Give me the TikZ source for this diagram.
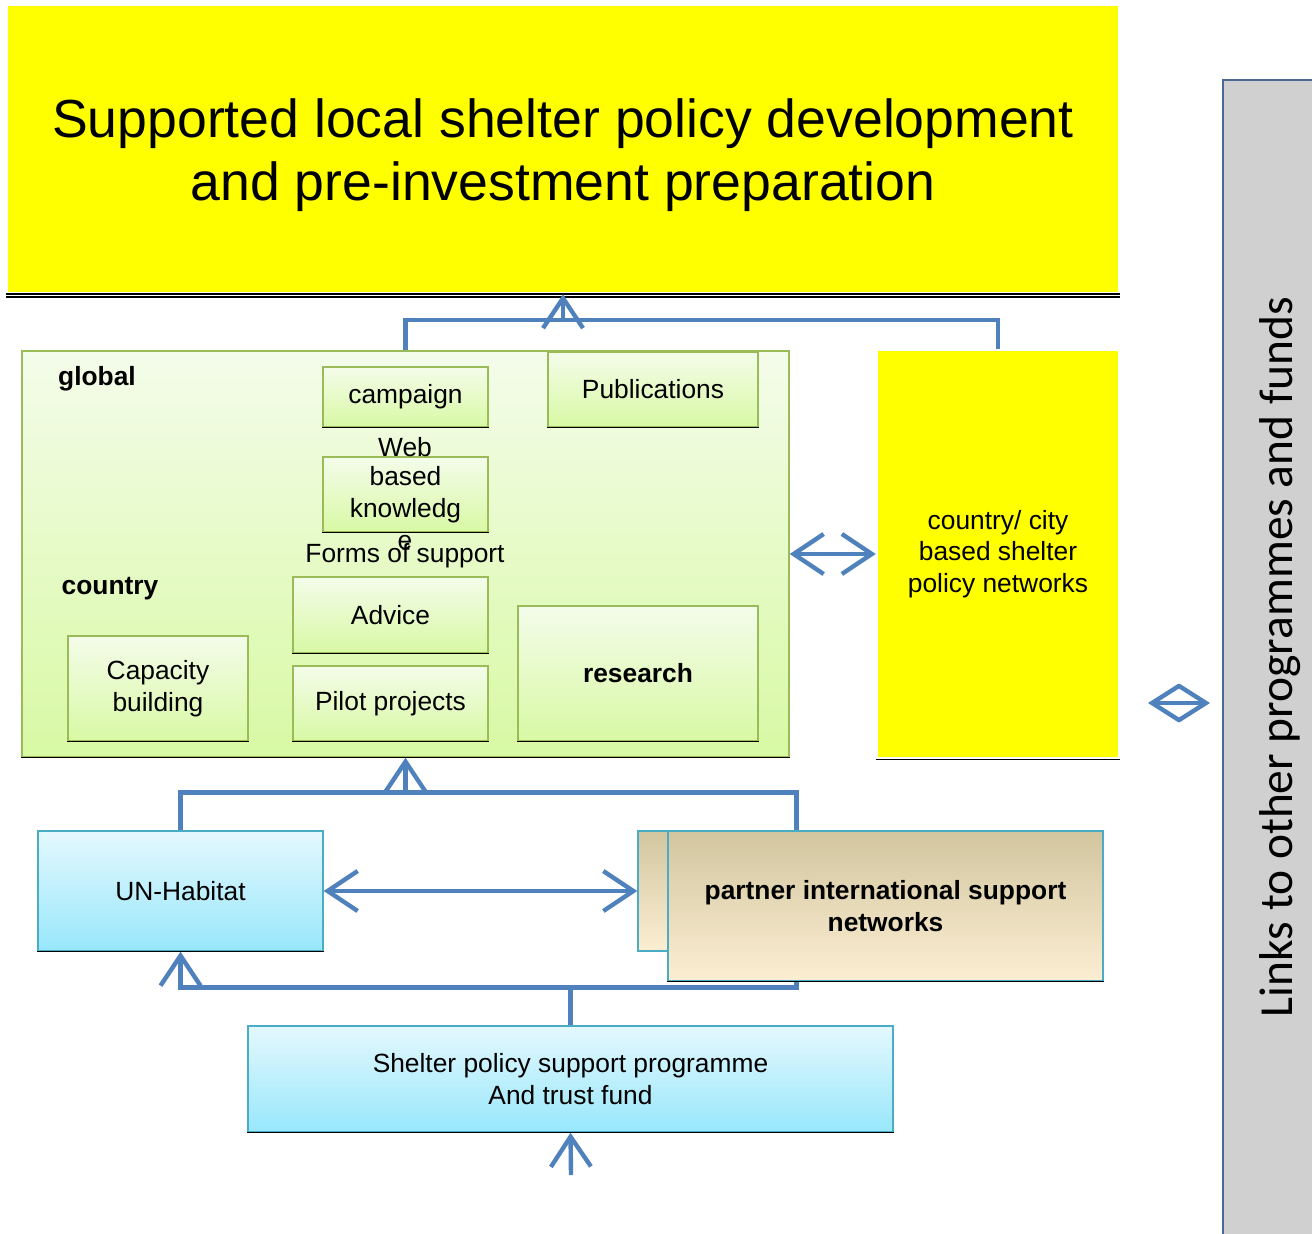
\documentclass[tikz,border=0pt]{standalone}
\usepackage{fontspec}
\setmainfont{Liberation Sans}
\newfontfamily\linksfont{Carlito}
\usepackage{tikz}
\usetikzlibrary{arrows.meta}
\def\u{0.02cm}
\definecolor{lineblue}{HTML}{4F81BD}
\definecolor{goalyellow}{HTML}{FFFF00}
\definecolor{greenedge}{HTML}{9BBB59}
\definecolor{greentop}{HTML}{F4FCEA}
\definecolor{greenbot}{HTML}{D8F9A4}
\definecolor{cyanedge}{HTML}{4BACC6}
\definecolor{cyantop}{HTML}{E4F8FD}
\definecolor{cyanbot}{HTML}{98E7FC}
\definecolor{tantop}{HTML}{D2C6A0}
\definecolor{tanbot}{HTML}{FCEED2}
\definecolor{grayfill}{HTML}{D0D0D0}
\definecolor{grayedge}{HTML}{4A6A94}

\begin{document}
\begin{tikzpicture}[x=\u,y=-\u,line width=2.5pt,draw=lineblue,
    >={Straight Barb[length=0.6cm,width=0.8cm]}]
    		\tikzstyle{txt}=[inner sep=0pt,align=center,font=\fontsize{15pt}{18pt}\selectfont]
    		\tikzstyle{box}=[txt,draw,line width=0.8pt]
    		\tikzstyle{green box}=[box,draw=greenedge,top color=greentop,bottom color=greenbot]
    		\tikzstyle{cyan box}=[box,draw=cyanedge,top color=cyantop,bottom color=cyanbot]
    		\tikzstyle{tan box}=[box,draw=cyanedge,top color=tantop,bottom color=tanbot]
    		\tikzstyle{yellow box}=[txt,fill=goalyellow]
    		\tikzstyle{shadow line}=[black,line width=0.8pt]
    		
    		\useasboundingbox (0,0) rectangle (1312,1234);
    		
    		% side bar
    		\node[fill=grayfill,draw=grayedge,line width=1.5pt,minimum width=110*\u,minimum height=1170*\u] (side) at (1278,665) {};
    		\node[rotate=90,inner sep=0pt,font=\linksfont\fontsize{27pt}{30pt}\selectfont] (links) at (1280,657) {Links to other programmes and funds};
    		
    		% goal
    		\node[yellow box,minimum width=1110*\u,minimum height=286*\u] (title) at (563,149) {};
    		\node[txt,font=\fontsize{30.5pt}{36pt}\selectfont] (title-txt) at (563,155) {Supported local shelter policy development\\and pre-investment preparation};
    		\draw[shadow line] (title.south west) -- (title.south east);
    		\draw[shadow line] ([yshift=-0.06cm]title.south west) -- ([yshift=-0.06cm]title.south east);
    		
    		% forms of support
    		\node[green box,minimum width=767*\u,minimum height=406*\u] (panel) at (405.5,554) {};
    		\node[txt,font=\fontsize{15pt}{18pt}\bfseries] (global) at (97,379) {global};
    		\node[txt,font=\fontsize{15pt}{18pt}\bfseries] (country) at (110,589) {country};
    		\node[green box,minimum width=165*\u,minimum height=60*\u] (campaign) at (405.5,397) {campaign};
    		\node[green box,minimum width=210*\u,minimum height=75*\u] (pub) at (653,389.5) {Publications};
    		\node[green box,minimum width=165*\u,minimum height=75*\u] (web) at (405.5,494.5) {based\\knowledg};
    		\node[txt] (web-1) at (405,447) {Web};
    		\node[txt] (web-2) at (405,543) {e};
    		\node[txt] (forms) at (405,556) {Forms of support};
    		\node[green box,minimum width=195*\u,minimum height=76*\u] (advice) at (390.5,615) {Advice};
    		\node[green box,minimum width=180*\u,minimum height=105*\u] (capacity) at (158,688.5) {Capacity\\building};
    		\node[green box,minimum width=195*\u,minimum height=75*\u] (pilot) at (390.5,703.5) {Pilot projects};
    		\node[green box,minimum width=240*\u,minimum height=135*\u,font=\fontsize{15pt}{18pt}\bfseries] (research) at (638,673.5) {research};
    		
    		\node[yellow box,minimum width=240*\u,minimum height=406*\u] (net) at (998,554) {country/ city\\based shelter\\policy networks};
    		
    		% actors
    		\node[cyan box,minimum width=285*\u,minimum height=120*\u] (un) at (180.5,891) {UN-Habitat};
    		\node[tan box,minimum width=317*\u,minimum height=120*\u] (back) at (796.5,891) {};
    		\node[cyan box,minimum width=645*\u,minimum height=106*\u] (fund) at (570.5,1079) {Shelter policy support programme\\And trust fund};
    		
    		\coordinate (top-j) at (563,320);
    		\coordinate (mid-j) at (405.5,793);
    		\coordinate (in-1) at (571,1175);
    		\coordinate (d-1) at (1148,703);
    		\coordinate (d-2) at (1210,703);
    		
    		\draw (panel.north) -- ++(0,-30) -| (net.north);
    		\draw[->] (top-j) -- (title.south);
    		\draw[<->] (panel.east) -- (net.west);
    		\draw[{Straight Barb[length=0.55cm,width=0.7cm]}-{Straight Barb[length=0.55cm,width=0.7cm]}] (d-1) -- (d-2);
    		\draw (un.north) -- ++(0,-38) -| (back.north);
    		\draw[->] (mid-j) -- (panel.south);
    		\draw[<->] (un.east) -- (back.west);
    		\draw[->] (fund.north) -- ++(0,-38) -| (un.south);
    		\draw (fund.north) -- ++(0,-38) -| (back.south);
    		\draw[->] (in-1) -- (fund.south);
    		
    		\node[tan box,minimum width=435*\u,minimum height=150*\u,font=\fontsize{15pt}{18pt}\bfseries] (partner) at (885.5,906) {partner international support\\networks};
    		
    		\foreach \n in {panel,campaign,pub,web,advice,capacity,pilot,research,net,un,partner,fund}
    		    \draw[shadow line] (\n.south west) -- (\n.south east);
    		
    	\end{tikzpicture}
\end{document}
